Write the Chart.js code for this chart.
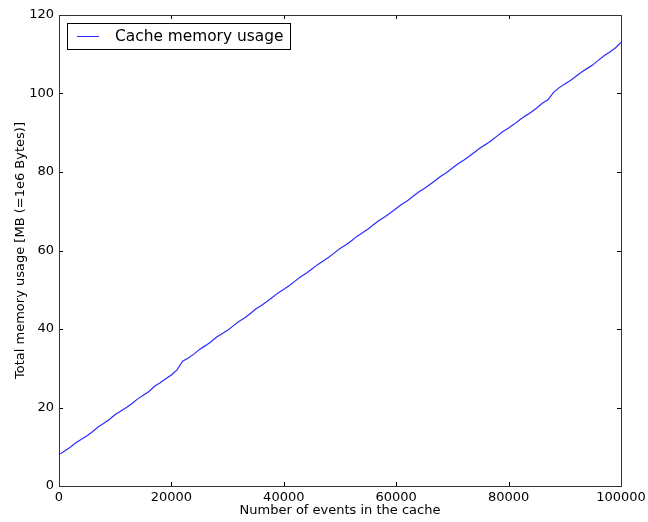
<!DOCTYPE html>
<html>
<head>
<meta charset="utf-8">
<script src="https://cdn.jsdelivr.net/npm/chart.js@4.4.0/dist/chart.umd.min.js"></script>
<style>
  html, body { margin: 0; padding: 0; background: #fff; }
  #wrap { width: 648px; height: 522px; }
</style>
</head>
<body>
<div id="wrap"><canvas id="c" width="648" height="522"></canvas></div>
<script>
// Number of events held in the cache
const events = [];
for (let k = 0; k <= 100; k++) events.push(k * 1000);

// Measured memory usage, MB
const memoryMB = [
  8.0, 8.9, 9.9, 11.0, 11.9, 12.8, 13.9, 15.1, 16.0, 17.0,
  18.2, 19.1, 20.0, 21.0, 22.2, 23.1, 24.1, 25.4, 26.3, 27.3,
  28.3, 29.6, 31.8, 32.6, 33.6, 34.8, 35.7, 36.7, 37.9, 38.8,
  39.7, 40.8, 41.9, 42.8, 43.9, 45.1, 46.0, 47.0, 48.1, 49.2,
  50.1, 51.1, 52.2, 53.3, 54.2, 55.3, 56.4, 57.3, 58.3, 59.4,
  60.5, 61.4, 62.4, 63.6, 64.5, 65.5, 66.6, 67.7, 68.6, 69.6,
  70.7, 71.8, 72.7, 73.8, 74.9, 75.8, 76.8, 77.9, 79.0, 79.9,
  81.0, 82.1, 83.0, 84.0, 85.1, 86.2, 87.1, 88.1, 89.2, 90.3,
  91.2, 92.2, 93.3, 94.3, 95.2, 96.3, 97.5, 98.4, 100.3, 101.5,
  102.4, 103.3, 104.4, 105.5, 106.4, 107.3, 108.5, 109.6, 110.6, 111.6,
  113.0
];

const xTicks = [0, 20000, 40000, 60000, 80000, 100000];
const yTicks = [0, 20, 40, 60, 80, 100, 120];

const seriesLabel = 'Cache memory usage';
const xTitle = 'Number of events in the cache';
const yTitle = 'Total memory usage [MB (=1e6 Bytes)]';

const FONT = "'DejaVu Sans', sans-serif";

// Frame around the plot area with inward ticks on all four sides
const framePlugin = {
  id: 'frame',
  afterDatasetsDraw(chart) {
    const { ctx, chartArea: a, scales } = chart;
    ctx.save();
    ctx.strokeStyle = '#000';
    ctx.lineWidth = 1;
    ctx.beginPath();
    scales.x.ticks.forEach((t, i) => {
      const px = Math.round(scales.x.getPixelForTick(i)) + 0.5;
      ctx.moveTo(px, a.bottom); ctx.lineTo(px, a.bottom - 4);
      ctx.moveTo(px, a.top); ctx.lineTo(px, a.top + 4);
    });
    scales.y.ticks.forEach((t, i) => {
      const py = Math.round(scales.y.getPixelForTick(i)) + 0.5;
      ctx.moveTo(a.left, py); ctx.lineTo(a.left + 4, py);
      ctx.moveTo(a.right, py); ctx.lineTo(a.right - 4, py);
    });
    ctx.stroke();
    ctx.strokeStyle = '#333';
    ctx.strokeRect(Math.round(a.left) + 0.5, Math.round(a.top) + 0.5,
                   Math.round(a.right - a.left), Math.round(a.bottom - a.top));
    ctx.restore();
  }
};

// Boxed legend in the upper-left corner of the plot
const legendBoxPlugin = {
  id: 'legendBox',
  afterDraw(chart) {
    const { ctx, chartArea: a } = chart;
    const ds = chart.data.datasets[0];
    const x0 = a.left + 8, y0 = a.top + 8, w = 223, h = 26;
    ctx.save();
    ctx.fillStyle = '#fff';
    ctx.fillRect(x0, y0, w, h);
    ctx.strokeStyle = '#000';
    ctx.lineWidth = 1;
    ctx.strokeRect(x0 + 0.5, y0 + 0.5, w, h);
    ctx.strokeStyle = ds.borderColor;
    ctx.beginPath();
    ctx.moveTo(x0 + 10, y0 + 13.5);
    ctx.lineTo(x0 + 32, y0 + 13.5);
    ctx.stroke();
    ctx.fillStyle = '#000';
    ctx.font = '15.4px ' + FONT;
    ctx.textBaseline = 'middle';
    ctx.fillText(ds.label, x0 + 48, y0 + 13.5);
    ctx.restore();
  }
};

new Chart(document.getElementById('c'), {
  type: 'line',
  data: {
    labels: events,
    datasets: [{
      label: seriesLabel,
      data: events.map((e, i) => ({ x: e, y: memoryMB[i] })),
      borderColor: '#2a2aff',
      borderWidth: 1.2,
      pointRadius: 0,
      tension: 0,
      fill: false
    }]
  },
  options: {
    responsive: false,
    animation: false,
    devicePixelRatio: 1,
    layout: { padding: { left: 0, top: 15, right: 27, bottom: 0 } },
    plugins: { legend: { display: false }, tooltip: { enabled: false } },
    scales: {
      x: {
        type: 'linear',
        min: 0, max: 100000,
        afterBuildTicks(scale) { scale.ticks = xTicks.map(v => ({ value: v })); },
        afterFit(scale) {
          scale.height = 36;
          scale.paddingLeft = 0;
          scale.paddingRight = 0;
        },
        grid: { display: false, drawTicks: false },
        border: { display: false },
        ticks: {
          color: '#000', padding: 4,
          font: { family: FONT, size: 13 },
          callback: v => String(v)
        },
        title: {
          display: true, text: xTitle, color: '#000',
          font: { family: FONT, size: 13 },
          padding: { top: 0, bottom: 4 }
        }
      },
      y: {
        min: 0, max: 120,
        afterBuildTicks(scale) { scale.ticks = yTicks.map(v => ({ value: v })); },
        afterFit(scale) {
          scale.width = 59;
          scale.paddingTop = 0;
          scale.paddingBottom = 0;
        },
        grid: { display: false, drawTicks: false },
        border: { display: false },
        ticks: {
          color: '#000', padding: 5,
          font: { family: FONT, size: 13 },
          callback: v => String(v)
        },
        title: {
          display: true, text: yTitle, color: '#000',
          font: { family: FONT, size: 13 },
          padding: { top: 13, bottom: 0 }
        }
      }
    }
  },
  plugins: [framePlugin, legendBoxPlugin]
});
</script>
</body>
</html>
